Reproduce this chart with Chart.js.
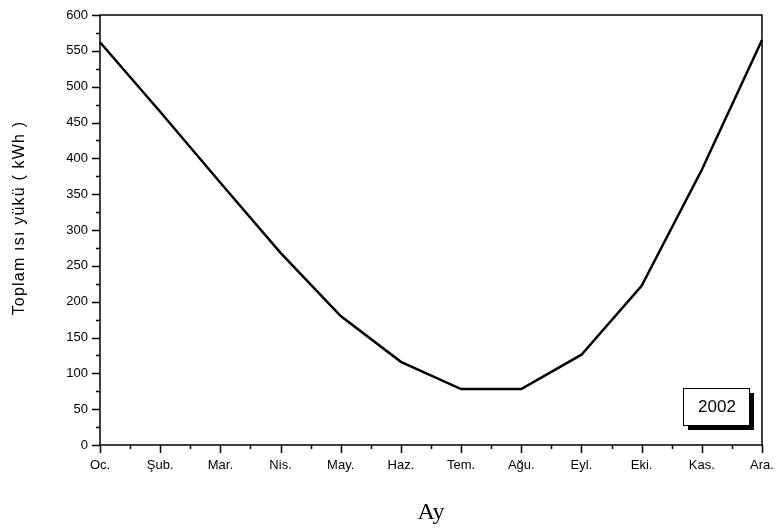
<!DOCTYPE html>
<html>
<head>
<meta charset="utf-8">
<script src="https://cdn.jsdelivr.net/npm/chart.js@4"></script>
<style>
  html, body { margin: 0; padding: 0; background: #fff; }
  #wrap { width: 779px; height: 531px; }
</style>
</head>
<body>
<div id="wrap"><canvas id="chart" width="779" height="531"></canvas></div>
<script>
// months (x axis)
var months = ['Oc.', 'Şub.', 'Mar.', 'Nis.', 'May.', 'Haz.', 'Tem.', 'Ağu.', 'Eyl.', 'Eki.', 'Kas.', 'Ara.'];
// total heat load per month, kWh
var heatLoad = [562, 465, 366, 268, 180, 116, 78, 78, 126, 222, 384, 565];
var yearLabel = '2002';
var yTitle = 'Toplam ısı yükü ( kWh )';

var yMin = 0, yMax = 600, yStep = 50;

/* ======= frame, minor ticks, y title and the year box ======= */
var extras = {
    id: 'extras',
    afterDraw: function (chart) {
        var c = chart.ctx;
        var a = chart.chartArea;
        var xs = chart.scales.x, ys = chart.scales.y;
        c.save();
        c.strokeStyle = '#000';
        c.lineWidth = 1.5;
        c.strokeRect(a.left, a.top, a.right - a.left, a.bottom - a.top);

        c.beginPath();
        // y ticks: major every 50, minor at 25
        for (var v = yMin; v <= yMax; v += yStep / 2) {
            var py = Math.round(ys.getPixelForValue(v)) + 0.5;
            var len = (v % yStep === 0) ? 8 : 4;
            c.moveTo(a.left, py);
            c.lineTo(a.left - len, py);
        }
        // x ticks: major at months, minor halfway
        for (var i = 0; i < months.length; i++) {
            var px = Math.round(xs.getPixelForValue(i)) + 0.5;
            c.moveTo(px, a.bottom);
            c.lineTo(px, a.bottom + 8);
            if (i < months.length - 1) {
                var mx = Math.round((xs.getPixelForValue(i) + xs.getPixelForValue(i + 1)) / 2) + 0.5;
                c.moveTo(mx, a.bottom);
                c.lineTo(mx, a.bottom + 4);
            }
        }
        c.stroke();

        // y axis title
        c.save();
        c.translate(20, 218);
        c.rotate(-Math.PI / 2);
        c.fillStyle = '#000';
        c.font = '16px "Liberation Sans", Arial, sans-serif';
        c.letterSpacing = '1.2px';
        c.textAlign = 'center';
        c.textBaseline = 'middle';
        c.fillText(yTitle, 0, 0);
        c.restore();

        // year box with shadow
        var bx = 683, by = 388, bw = 66, bh = 37;
        c.fillStyle = '#000';
        c.fillRect(bx + 5, by + 5, bw, bh);
        c.fillStyle = '#fff';
        c.fillRect(bx, by, bw, bh);
        c.lineWidth = 1;
        c.strokeRect(bx + 0.5, by + 0.5, bw, bh);
        c.fillStyle = '#000';
        c.font = '17px "Liberation Sans", Arial, sans-serif';
        c.textAlign = 'center';
        c.textBaseline = 'middle';
        c.fillText(yearLabel, bx + bw / 2 + 1, by + bh / 2 + 1);
        c.restore();
    }
};

var ctx = document.getElementById('chart');
var chart = new Chart(ctx, {
    type: 'line',
    data: {
        labels: months,
        datasets: [{
            label: 'Toplam ısı yükü',
            data: heatLoad,
            borderColor: '#000',
            borderWidth: 2.5,
            pointRadius: 0,
            tension: 0,
            fill: false
        }]
    },
    options: {
        responsive: false,
        animation: false,
        layout: { padding: { top: 15, right: 0, left: 0, bottom: 0 } },
        plugins: {
            legend: { display: false },
            tooltip: { enabled: false }
        },
        scales: {
            x: {
                type: 'category',
                offset: false,
                afterFit: function (s) { s.height = 86; s.paddingRight = 17; },
                grid: { display: false, drawTicks: false },
                border: { display: false },
                ticks: {
                    color: '#000',
                    padding: 13,
                    maxRotation: 0,
                    autoSkip: false,
                    font: { family: '"Liberation Sans", Arial, sans-serif', size: 13 }
                },
                title: {
                    display: true,
                    text: 'Ay',
                    color: '#000',
                    padding: { top: 16 },
                    font: { family: '"Liberation Serif", "Times New Roman", serif', size: 24 }
                }
            },
            y: {
                min: yMin,
                max: yMax,
                afterFit: function (s) { s.width = 100; s.paddingTop = 0; s.paddingBottom = 0; },
                grid: { display: false, drawTicks: false },
                border: { display: false },
                ticks: {
                    stepSize: yStep,
                    color: '#000',
                    padding: 12,
                    font: { family: '"Liberation Sans", Arial, sans-serif', size: 13 }
                }
            }
        }
    },
    plugins: [extras]
});
</script>
</body>
</html>
